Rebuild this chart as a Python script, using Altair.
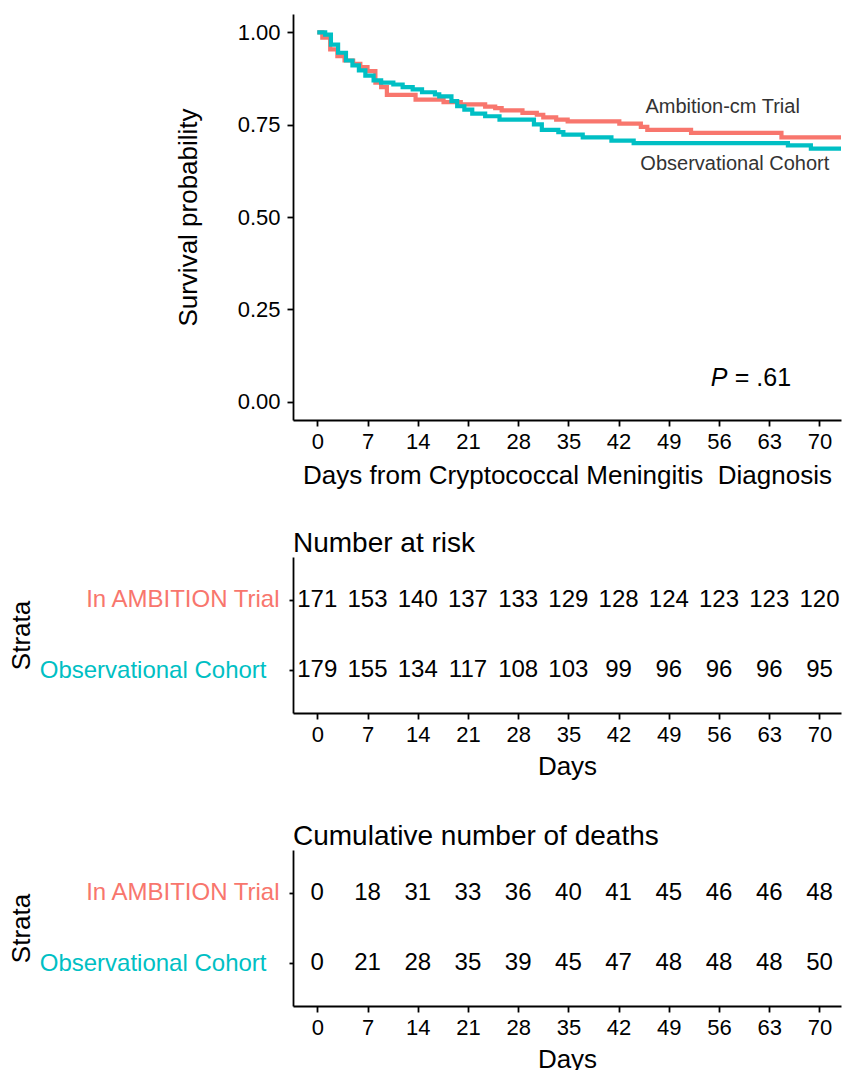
import altair as alt
import pandas as pd

RED = "#F8766D"
TEAL = "#00BFC4"
FONT = "Liberation Sans"

# ---- data ----
DAY_TICKS = [0, 7, 14, 21, 28, 35, 42, 49, 56, 63, 70]
STRATA = ["In AMBITION Trial", "Observational Cohort"]
AT_RISK_TRIAL = [171, 153, 140, 137, 133, 129, 128, 124, 123, 123, 120]
AT_RISK_OBS = [179, 155, 134, 117, 108, 103, 99, 96, 96, 96, 95]
DEATHS_TRIAL = [0, 18, 31, 33, 36, 40, 41, 45, 46, 46, 48]
DEATHS_OBS = [0, 21, 28, 35, 39, 45, 47, 48, 48, 48, 50]

TRIAL_TIME = [0, 0.7, 1.8, 2.8, 3.8, 5.0, 6.0, 7.0, 8.1, 8.9, 9.7, 13.7, 17.6,
              20.0, 23.4, 24.8, 25.7, 28.6, 30.6, 31.5, 33.3, 34.9, 42.1, 45.1,
              46.0, 52.1, 64.7, 73.0]
TRIAL_SURV = [1.0, 0.986, 0.954, 0.936, 0.924, 0.915, 0.906, 0.895, 0.864, 0.852,
              0.831, 0.818, 0.811, 0.805, 0.799, 0.795, 0.789, 0.782, 0.777, 0.770,
              0.764, 0.759, 0.753, 0.744, 0.736, 0.728, 0.716, 0.716]

OBS_TIME = [0, 1.1, 1.9, 2.9, 4.0, 4.9, 5.8, 6.7, 7.85, 8.9, 10.6, 11.9, 13.3,
            14.6, 16.4, 17.0, 18.7, 19.5, 20.5, 21.6, 23.4, 25.4, 30.2, 31.3,
            33.6, 34.3, 37.0, 41.0, 44.1, 65.6, 68.8, 73.0]
OBS_SURV = [1.0, 0.994, 0.967, 0.945, 0.924, 0.911, 0.897, 0.883, 0.870, 0.864,
            0.859, 0.852, 0.846, 0.838, 0.832, 0.827, 0.814, 0.800, 0.791, 0.780,
            0.773, 0.764, 0.751, 0.736, 0.730, 0.723, 0.716, 0.707, 0.700, 0.694,
            0.685, 0.685]

CURVE_LABELS = ["Ambition-cm Trial", "Observational Cohort"]
CURVE_LABEL_DAY = [56.5, 58.2]
CURVE_LABEL_SURV = [0.782, 0.628]

P_LABEL = ["P", "= .61"]
P_DAY = 54.85
P_SURV = 0.043

# ---- tables ----
trial_df = pd.DataFrame({"day": TRIAL_TIME, "surv": TRIAL_SURV})
obs_df = pd.DataFrame({"day": OBS_TIME, "surv": OBS_SURV})
lab_df = pd.DataFrame({"label": CURVE_LABELS, "day": CURVE_LABEL_DAY, "surv": CURVE_LABEL_SURV})
p_df = pd.DataFrame({"label": [P_LABEL[0]], "day": [P_DAY], "surv": [P_SURV]})
p2_df = pd.DataFrame({"label": [P_LABEL[1]], "day": [P_DAY], "surv": [P_SURV]})

risk_df = pd.DataFrame({
    "day": DAY_TICKS * 2,
    "strata": [STRATA[0]] * len(DAY_TICKS) + [STRATA[1]] * len(DAY_TICKS),
    "n": AT_RISK_TRIAL + AT_RISK_OBS,
})
death_df = pd.DataFrame({
    "day": DAY_TICKS * 2,
    "strata": [STRATA[0]] * len(DAY_TICKS) + [STRATA[1]] * len(DAY_TICKS),
    "n": DEATHS_TRIAL + DEATHS_OBS,
})

W = 548
H1 = 406
HT = 156
XDOM = [-3.385, 73.0]

def x_enc(title, pad):
    return alt.X(
        "day:Q",
        scale=alt.Scale(domain=XDOM, nice=False, zero=False),
        axis=alt.Axis(values=DAY_TICKS, title=title, labelFontSize=22, tickSize=6,
                      labelPadding=5, labelFlush=False, titleFontSize=26,
                      titlePadding=pad),
    )

y_surv = alt.Y(
    "surv:Q",
    scale=alt.Scale(domain=[-0.05, 1.05], nice=False, zero=False),
    axis=alt.Axis(values=[0, 0.25, 0.5, 0.75, 1.0], format=".2f",
                  title="Survival probability", labelFontSize=22, tickSize=6,
                  labelPadding=7, titleFontSize=26, titlePadding=36),
)

xt = x_enc("Days from Cryptococcal Meningitis\u00a0 Diagnosis", 10)

trial_line = alt.Chart(trial_df).mark_line(
    interpolate="step-after", clip=True, strokeWidth=4.2, color=RED
).encode(x=xt, y=y_surv)
obs_line = alt.Chart(obs_df).mark_line(
    interpolate="step-after", clip=True, strokeWidth=4.2, color=TEAL
).encode(x="day:Q", y="surv:Q")
labels = alt.Chart(lab_df).mark_text(
    fontSize=20, font=FONT, color="#333333", align="center", baseline="alphabetic"
).encode(x="day:Q", y="surv:Q", text="label:N")
p_txt = alt.Chart(p_df).mark_text(
    fontSize=25, font=FONT, fontStyle="italic", color="black", align="left",
    baseline="alphabetic"
).encode(x="day:Q", y="surv:Q", text="label:N")
p2_txt = alt.Chart(p2_df).mark_text(
    fontSize=25, font=FONT, color="black", align="left", baseline="alphabetic", dx=24
).encode(x="day:Q", y="surv:Q", text="label:N")

surv_panel = alt.layer(trial_line, obs_line, labels, p_txt, p2_txt).properties(
    width=W, height=H1
)


def table_panel(df, title):
    return alt.Chart(df).mark_text(
        fontSize=24, font=FONT, color="black", align="center", baseline="middle"
    ).encode(
        x=x_enc("Days", 8),
        y=alt.Y(
            "strata:N",
            sort=STRATA,
            scale=alt.Scale(type="point", padding=0.6),
            axis=alt.Axis(
                title="Strata", labelFontSize=24, tickSize=4,
                labelPadding={"condition": {"test": f"datum.value == '{STRATA[1]}'",
                                            "value": 23}, "value": 10},
                labelLimit=0, maxExtent=400,
                labelColor={"condition": {"test": f"datum.value == '{STRATA[0]}'",
                                          "value": RED}, "value": TEAL},
                titleFontSize=26, titlePadding=5,
            ),
        ),
        text="n:Q",
    ).properties(
        width=W, height=HT,
        title=alt.TitleParams(title, anchor="start", frame="group", fontSize=28,
                              fontWeight="normal", font=FONT, color="black",
                              baseline="alphabetic", offset=0, dy=23),
    )

risk_panel = table_panel(risk_df, "Number at risk")
death_panel = table_panel(death_df, "Cumulative number of deaths")

chart = alt.vconcat(
    surv_panel, risk_panel, death_panel, spacing=137, bounds="flush"
).properties(
    padding={"left": 0, "top": 6, "right": 2, "bottom": 0}
).configure(font=FONT).configure_view(stroke=None).configure_axis(
    grid=False, domainColor="black", domainWidth=1.8, tickColor="black",
    tickWidth=1.8, labelColor="black", labelFont=FONT, titleFont=FONT,
    titleFontWeight="normal", titleColor="black",
)

chart.save("out.html", embed_options={"renderer": "svg", "actions": False})
